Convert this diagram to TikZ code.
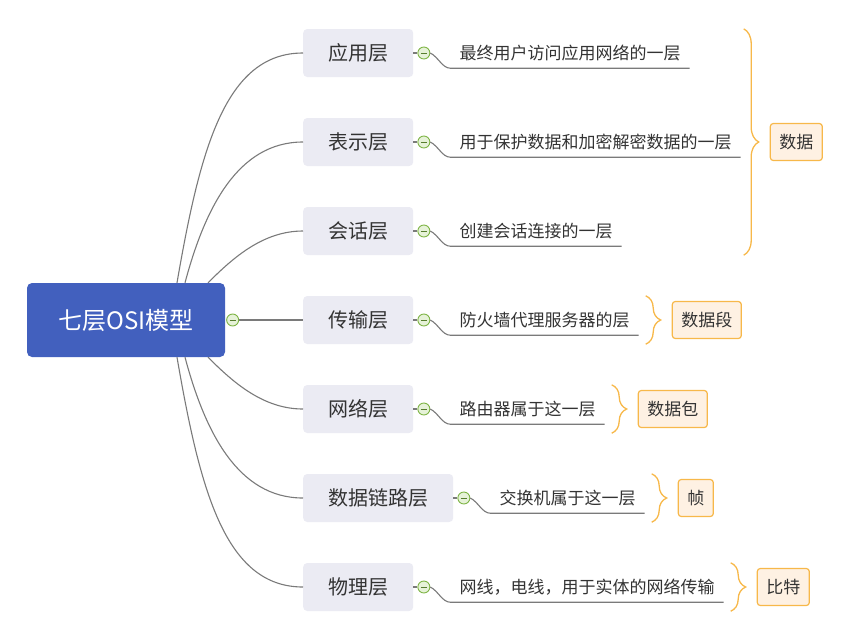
\documentclass[tikz,border=0pt]{standalone}
\usepackage{fontspec}
\newfontfamily\cjk{Noto Sans CJK SC}
\usepackage{tikz}
\usetikzlibrary{positioning,decorations.pathreplacing}
\definecolor{rootblue}{HTML}{4260BE}
\definecolor{layerfill}{HTML}{EBEBF3}
\definecolor{linkgray}{HTML}{7A7A7A}
\definecolor{textgray}{HTML}{333333}
\definecolor{foldgreen}{HTML}{7CB342}
\definecolor{foldfill}{HTML}{E6F2D8}
\definecolor{braceorange}{HTML}{F7B84A}
\definecolor{sumfill}{HTML}{FEF1E3}

\tikzset{
  root/.style={rectangle, rounded corners=5pt, fill=rootblue, text=white,
    minimum width=198pt, minimum height=74pt, font=\cjk\fontsize{24}{28}\selectfont},
  layer/.style={rectangle, rounded corners=4pt, fill=layerfill, text=textgray,
    minimum height=48pt, inner xsep=25pt, font=\cjk\fontsize{20}{24}\selectfont},
  fold/.style={circle, draw=foldgreen, line width=0.9pt, fill=foldfill,
    minimum size=12pt, inner sep=0pt,
    path picture={\draw[foldgreen!70!black, line width=1pt]
      ([xshift=-3pt]path picture bounding box.center) -- ([xshift=3pt]path picture bounding box.center);}},
  desc/.style={inner xsep=9pt, inner ysep=0pt, minimum height=30pt, text=textgray,
    font=\cjk\fontsize{17}{20}\selectfont},
  link/.style={draw=linkgray, line width=1.1pt},
  curly/.style={draw=braceorange, line width=1.3pt, decorate,
    decoration={brace, amplitude=15pt}},
  sumbox/.style={rectangle, rounded corners=3pt, draw=braceorange, fill=sumfill,
    line width=1.2pt, minimum height=37pt, inner xsep=9pt, text=textgray,
    font=\cjk\fontsize{17}{20}\selectfont}
}

\begin{document}
\begin{tikzpicture}[x=1pt,y=-1pt]
  \useasboundingbox (0,0) rectangle (845,638);

  % root
  \node[root] (osi) at (126,320) {七层OSI模型};
  \node[fold, right=1pt of osi] (fosi) {};

  % the seven layers
  \node[layer, anchor=west] (app) at (303,53)  {应用层};
  \node[layer, anchor=west] (pre) at (303,142) {表示层};
  \node[layer, anchor=west] (ses) at (303,231) {会话层};
  \node[layer, anchor=west] (tra) at (303,320) {传输层};
  \node[layer, anchor=west] (net) at (303,409) {网络层};
  \node[layer, anchor=west] (lnk) at (303,498) {数据链路层};
  \node[layer, anchor=west] (phy) at (303,587) {物理层};

  \node[fold, right=4pt of app] (fapp) {};
  \node[fold, right=4pt of pre] (fpre) {};
  \node[fold, right=4pt of ses] (fses) {};
  \node[fold, right=4pt of tra] (ftra) {};
  \node[fold, right=4pt of net] (fnet) {};
  \node[fold, right=4pt of lnk] (flnk) {};
  \node[fold, right=4pt of phy] (fphy) {};

  \node[desc, right=20pt of fapp] (dapp) {最终用户访问应用网络的一层};
  \node[desc, right=20pt of fpre] (dpre) {用于保护数据和加密解密数据的一层};
  \node[desc, right=20pt of fses] (dses) {创建会话连接的一层};
  \node[desc, right=20pt of ftra] (dtra) {防火墙代理服务器的层};
  \node[desc, right=20pt of fnet] (dnet) {路由器属于这一层};
  \node[desc, right=20pt of flnk] (dlnk) {交换机属于这一层};
  \node[desc, right=20pt of fphy] (dphy) {网线，电线，用于实体的网络传输};

  % root to layers
  \draw[link] ([xshift=51pt]osi.north) .. controls +(23,-133) and +(-78,0) .. (app.west);
  \draw[link] ([xshift=59pt]osi.north) .. controls +(20,-75) and +(-65,0) .. (pre.west);
  \draw[link] ([xshift=82pt]osi.north) .. controls +(25,-25) and +(-40,0) .. (ses.west);
  \draw[link] (fosi.east) -- (tra.west);
  \draw[link] ([xshift=82pt]osi.south) .. controls +(25,25) and +(-40,0) .. (net.west);
  \draw[link] ([xshift=59pt]osi.south) .. controls +(20,75) and +(-65,0) .. (lnk.west);
  \draw[link] ([xshift=51pt]osi.south) .. controls +(23,133) and +(-78,0) .. (phy.west);

  % layers to descriptions
  \draw[link] (app.east) -- (fapp.west);
  \draw[link] (pre.east) -- (fpre.west);
  \draw[link] (ses.east) -- (fses.west);
  \draw[link] (tra.east) -- (ftra.west);
  \draw[link] (net.east) -- (fnet.west);
  \draw[link] (lnk.east) -- (flnk.west);
  \draw[link] (phy.east) -- (fphy.west);
  \draw[link] (fapp.east) .. controls +(8,4) and +(-8,0) .. (dapp.south west) -- (dapp.south east);
  \draw[link] (fpre.east) .. controls +(8,4) and +(-8,0) .. (dpre.south west) -- (dpre.south east);
  \draw[link] (fses.east) .. controls +(8,4) and +(-8,0) .. (dses.south west) -- (dses.south east);
  \draw[link] (ftra.east) .. controls +(8,4) and +(-8,0) .. (dtra.south west) -- (dtra.south east);
  \draw[link] (fnet.east) .. controls +(8,4) and +(-8,0) .. (dnet.south west) -- (dnet.south east);
  \draw[link] (flnk.east) .. controls +(8,4) and +(-8,0) .. (dlnk.south west) -- (dlnk.south east);
  \draw[link] (fphy.east) .. controls +(8,4) and +(-8,0) .. (dphy.south west) -- (dphy.south east);

  % braces and summaries
  \draw[curly] ([xshift=3pt]dpre.east |- app.north) -- ([xshift=3pt]dpre.east |- ses.south);
  \node[sumbox, anchor=west] (sdata) at ([xshift=29pt]dpre.east) {数据};
  \draw[curly] ([xshift=7pt]dtra.east |- tra.north) -- ([xshift=7pt]dtra.east |- tra.south);
  \node[sumbox, anchor=west] (stra) at ([xshift=33pt]dtra.east) {数据段};
  \draw[curly] ([xshift=7pt]dnet.east |- net.north) -- ([xshift=7pt]dnet.east |- net.south);
  \node[sumbox, anchor=west] (snet) at ([xshift=33pt]dnet.east) {数据包};
  \draw[curly] ([xshift=7pt]dlnk.east |- lnk.north) -- ([xshift=7pt]dlnk.east |- lnk.south);
  \node[sumbox, anchor=west] (slnk) at ([xshift=33pt]dlnk.east) {帧};
  \draw[curly] ([xshift=7pt]dphy.east |- phy.north) -- ([xshift=7pt]dphy.east |- phy.south);
  \node[sumbox, anchor=west] (sphy) at ([xshift=33pt]dphy.east) {比特};
\end{tikzpicture}
\end{document}
